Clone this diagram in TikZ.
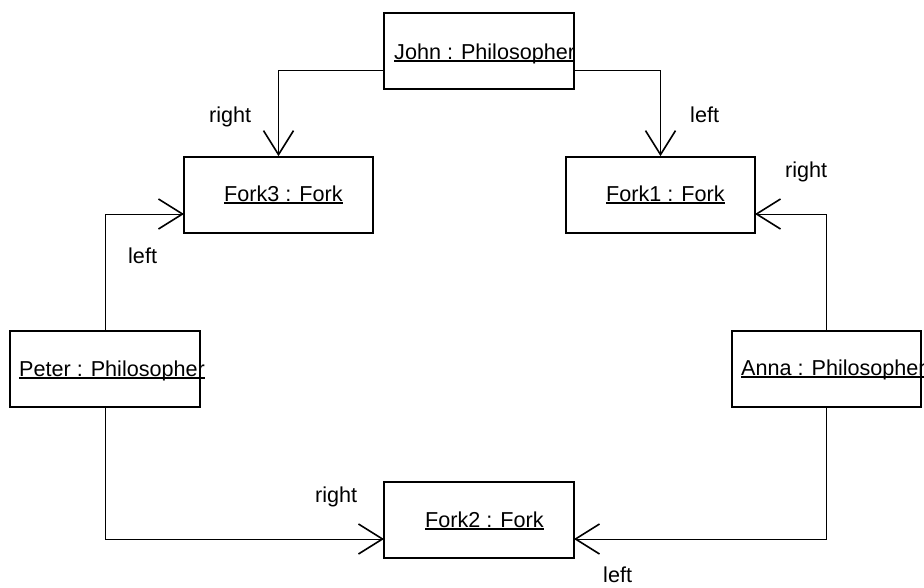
\documentclass[tikz,border=0pt]{standalone}
\usepackage{fontspec}
\setmainfont{Liberation Sans}
\usetikzlibrary{arrows.meta}
\begin{document}
\begin{tikzpicture}[x=1pt,y=-1pt,
  box/.style={draw=black,line width=1.7pt,rectangle,inner sep=0pt,fill=white},
  txt/.style={inner sep=0pt,anchor=base west,font=\fontsize{21.6}{26}\selectfont},
  uline/.style={line width=1.5pt},
  conn/.style={line width=1pt,-{Straight Barb[length=24pt,width=30pt,line width=1.6pt]}}]
\useasboundingbox[fill=white] (0,0) rectangle (924,587);
% boxes
\node[box,minimum width=190pt,minimum height=76pt] (John) at (479,51) {};
\node[box,minimum width=189pt,minimum height=76pt] (Fork3) at (278.5,195) {};
\node[box,minimum width=189pt,minimum height=76pt] (Fork1) at (660.5,195) {};
\node[box,minimum width=190pt,minimum height=76pt] (Peter) at (105,369) {};
\node[box,minimum width=189pt,minimum height=76pt] (Anna) at (826.5,369) {};
\node[box,minimum width=190pt,minimum height=76pt] (Fork2) at (479,520) {};
% texts
\node[txt] (tJohn) at (394,59) {John : Philosopher};
\node[txt] (tFork3) at (224,201) {Fork3 : Fork};
\node[txt] (tFork1) at (606,201) {Fork1 : Fork};
\node[txt] (tPeter) at (19,376) {Peter : Philosopher};
\node[txt] (tAnna) at (741,375) {Anna : Philosopher};
\node[txt] (tFork2) at (425,527) {Fork2 : Fork};
\foreach \t in {tJohn,tFork3,tFork1,tPeter,tAnna,tFork2}
  \draw[uline] ([yshift=-2.2pt]\t.base west) -- ([yshift=-2.2pt]\t.base east);
% connector points
\coordinate (jl) at (384,70);
\coordinate (jr) at (574,70);
\coordinate (f3l) at (184,214);
\coordinate (f1r) at (755,214);
\coordinate (f2l) at (384,539);
\coordinate (f2r) at (574,539);
% connectors
\draw[conn] (jl) -| (Fork3.north);
\draw[conn] (jr) -| (Fork1.north);
\draw[conn] (Peter.north) |- (f3l);
\draw[conn] (Anna.north) |- (f1r);
\draw[conn] (Peter.south) |- (f2l);
\draw[conn] (Anna.south) |- (f2r);
% labels
\node[txt] (l1) at (209,122) {right};
\node[txt] (l2) at (690,122) {left};
\node[txt] (l3) at (128,263) {left};
\node[txt] (l4) at (785,177) {right};
\node[txt] (l5) at (315,502) {right};
\node[txt] (l6) at (603,582) {left};
\end{tikzpicture}
\end{document}
